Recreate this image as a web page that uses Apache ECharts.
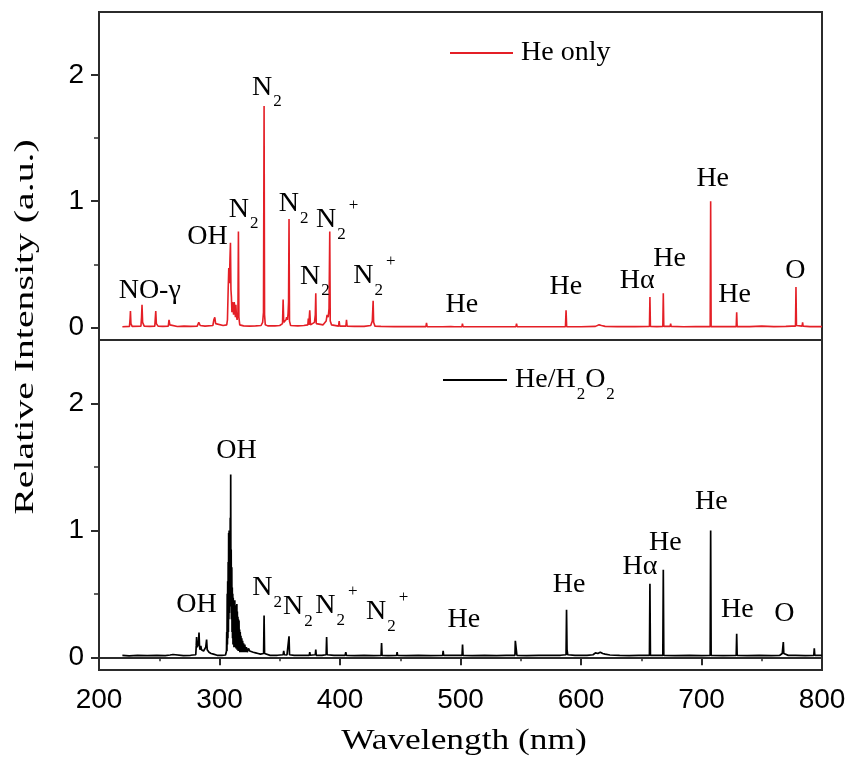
<!DOCTYPE html>
<html>
<head>
<meta charset="utf-8">
<script src="https://cdn.jsdelivr.net/npm/echarts@6/dist/echarts.min.js"></script>
<style>
  html, body { margin: 0; padding: 0; background: #ffffff; }
  #chart { width: 850px; height: 768px; }
</style>
</head>
<body>
<div id="chart"></div>
<script>
// Emission spectrum, He only discharge: [wavelength (nm), relative intensity]
const heOnlySpectrum = [
  [219.4,0.005],[221,0.006],[225.3,0.008],[225.8,0.07],[226.1,0.13],[226.5,0.03],[227.5,0.008],
  [234.8,0.01],[235.3,0.08],[235.7,0.18],[236.2,0.04],[237.5,0.01],
  [242,0.008],[246.3,0.01],[246.7,0.07],[247.1,0.13],[247.6,0.03],[249,0.01],
  [253,0.008],[257.5,0.01],[258.1,0.06],[258.8,0.02],[260,0.008],
  [265,0.007],[270.5,0.01],[271.2,0.025],[272,0.01],[276,0.008],
  [281.5,0.01],[282.8,0.04],[284,0.015],[288,0.01],
  [294.5,0.015],[295.3,0.06],[296.1,0.08],[296.8,0.03],[298,0.015],
  [303,0.015],[306,0.02],[306.6,0.06],[307.2,0.3],[307.7,0.47],[308.2,0.35],[308.7,0.55],[309.1,0.67],
  [309.5,0.3],[309.9,0.24],[310.3,0.12],[310.7,0.2],[311.2,0.16],[311.7,0.1],[312.2,0.2],[312.7,0.16],
  [313.2,0.08],[313.6,0.18],[314.0,0.1],[314.6,0.06],[315.3,0.12],[315.7,0.76],[316.1,0.08],[316.8,0.02],
  [320,0.012],[325,0.01],[330,0.012],[334.5,0.015],[335.8,0.04],[336.5,0.12],[337.0,1.755],[337.4,0.1],[338,0.02],[340,0.012],
  [346,0.012],[350,0.015],[352.3,0.03],[352.8,0.22],[353.3,0.04],[355.2,0.06],[355.7,0.08],[356.4,0.06],
  [356.9,0.11],[357.3,0.2],[357.7,0.86],[358.1,0.05],[359,0.015],
  [365,0.012],[370,0.015],[373.3,0.02],[373.7,0.07],[374.1,0.02],[374.9,0.135],[375.5,0.02],
  [378.8,0.04],[379.5,0.1],[379.9,0.27],[380.3,0.03],[381.5,0.015],
  [386,0.02],[388.5,0.05],[389.3,0.1],[390.2,0.08],[390.9,0.15],[391.5,0.76],[391.9,0.05],[393,0.02],
  [398.8,0.01],[399.3,0.05],[399.8,0.01],[404.9,0.01],[405.4,0.06],[405.9,0.01],
  [412,0.008],[420,0.008],[425.5,0.015],[426.8,0.05],[427.5,0.21],[427.9,0.04],[429,0.01],
  [433.9,0.008],[434.4,0.02],[434.9,0.008],
  [445,0.006],[460,0.006],[471.3,0.006],[471.8,0.035],[472.3,0.006],[480,0.005],
  [485.1,0.005],[485.6,0.02],[486.1,0.005],[492,0.006],[495,0.005],[501.2,0.006],[501.6,0.03],[502.1,0.006],
  [515,0.005],[530,0.005],[546,0.006],[546.5,0.03],[547,0.006],[560,0.005],[575,0.005],
  [587.1,0.006],[587.6,0.135],[588.1,0.006],
  [600,0.005],[612,0.008],[615,0.02],[617,0.015],[620,0.008],[630,0.006],[645,0.006],
  [656.8,0.008],[657.2,0.24],[657.6,0.008],[663,0.006],[667.9,0.008],[668.3,0.27],[668.7,0.008],
  [674.0,0.008],[674.4,0.03],[674.8,0.008],
  [685,0.005],[695,0.006],[707.2,0.006],[707.6,1.0],[708.0,0.006],[716.3,0.006],[716.7,0.02],[717.1,0.006],
  [720,0.006],[728.8,0.006],[729.2,0.12],[729.6,0.006],
  [740,0.006],[750,0.01],[760,0.006],[770,0.008],[775,0.01],[778.0,0.01],[778.4,0.32],[778.8,0.015],
  [783.5,0.01],[783.9,0.04],[784.3,0.01],[790,0.006],[800,0.006]
];

// Emission spectrum, He/H2O2 discharge: [wavelength (nm), relative intensity]
const heH2O2Spectrum = [
  [219.4,0.015],[225,0.012],[232,0.016],[240,0.013],[248,0.015],[255,0.014],[259,0.018],[261.4,0.022],
  [263,0.015],[270,0.014],[276,0.016],[280.3,0.02],[280.7,0.09],[281.0,0.16],[281.4,0.08],[282.0,0.07],
  [282.5,0.11],[283.0,0.195],[283.4,0.09],[283.8,0.06],[284.5,0.09],[285.0,0.06],[285.6,0.05],[286.2,0.07],
  [286.8,0.05],[287.4,0.06],[288.0,0.05],[288.6,0.08],[289.3,0.14],[289.8,0.06],[290.5,0.05],[291.3,0.04],
  [292,0.035],[293,0.03],[294,0.03],[295,0.025],[296.5,0.02],[298,0.016],[302,0.015],[305,0.018],[305.8,0.05],
  [306.0,0.2],[306.2,0.05],[306.4,0.5],[306.6,0.1],[306.8,0.6],[307.0,0.15],[307.2,0.75],[307.4,0.2],
  [307.6,0.98],[307.8,0.3],[308.0,1.0],[308.2,0.35],[308.5,0.9],[308.7,0.4],[308.9,1.1],[309.1,0.5],
  [309.3,1.44],[309.5,0.45],[309.7,0.85],[309.9,0.3],[310.2,0.71],[310.4,0.2],[310.6,0.55],[310.8,0.15],
  [311.0,0.5],[311.2,0.1],[311.4,0.47],[311.6,0.12],[311.8,0.45],[312.0,0.08],[312.2,0.44],[312.4,0.1],
  [312.7,0.45],[312.9,0.08],[313.1,0.4],[313.3,0.1],[313.5,0.41],[313.7,0.07],[313.9,0.38],[314.1,0.08],
  [314.4,0.42],[314.6,0.06],[314.8,0.36],[315.0,0.07],[315.3,0.32],[315.5,0.05],[315.7,0.3],[315.9,0.06],
  [316.2,0.29],[316.4,0.05],[316.7,0.22],[316.9,0.04],[317.2,0.2],[317.5,0.05],[317.8,0.17],[318.1,0.04],
  [318.5,0.15],[318.8,0.04],[319.2,0.13],[319.6,0.04],[320,0.11],[320.5,0.04],[321,0.1],[321.6,0.04],
  [322.3,0.08],[323,0.04],[324,0.07],[325,0.05],[326.5,0.05],[328,0.04],[330,0.035],[332,0.03],
  [334,0.025],[335.5,0.02],[336.6,0.03],[337.0,0.33],[337.4,0.03],[338.5,0.016],
  [342,0.015],[348,0.016],[352.8,0.02],[353.3,0.05],[353.8,0.02],[356,0.018],[357.3,0.02],[357.7,0.165],
  [358.1,0.02],[362,0.015],[368,0.016],[374.5,0.016],[374.9,0.04],[375.3,0.016],[379.5,0.02],[379.9,0.06],
  [380.3,0.016],[385,0.015],[388.5,0.02],[388.9,0.16],[389.3,0.02],[395,0.015],[404.3,0.016],[404.8,0.04],
  [405.3,0.016],[412,0.013],[420,0.015],[428,0.014],[434.1,0.015],[434.5,0.113],[434.9,0.015],[440,0.013],
  [447,0.015],[447.4,0.04],[447.8,0.015],[455,0.014],[465,0.015],[475,0.013],[485.2,0.015],[485.6,0.05],
  [486.0,0.015],[490.7,0.015],[491.1,0.03],[491.5,0.015],[501.3,0.015],[501.7,0.1],[502.1,0.015],
  [510,0.014],[520,0.015],[530,0.013],[538,0.015],[545.2,0.016],[545.5,0.13],[546.0,0.12],[546.5,0.13],
  [546.8,0.016],[555,0.014],[565,0.015],[576.3,0.015],[576.7,0.03],[577.1,0.015],[583,0.016],
  [587.6,0.02],[588.0,0.375],[588.4,0.06],[589.0,0.02],[595,0.015],[605,0.015],[610,0.02],[612,0.035],
  [614,0.03],[616,0.04],[618,0.03],[620,0.025],[624,0.018],[632,0.015],[640,0.014],[648,0.015],
  [656.8,0.015],[657.2,0.58],[657.6,0.015],[663,0.015],[667.9,0.015],[668.3,0.69],[668.7,0.015],
  [678,0.014],[690,0.015],[700,0.013],[707.2,0.015],[707.6,1.0],[708.0,0.015],[718,0.014],
  [728.8,0.015],[729.2,0.185],[729.6,0.015],[738,0.013],[748,0.015],[758,0.014],[765,0.016],
  [767.0,0.03],[767.5,0.04],[767.9,0.12],[768.3,0.03],[769,0.02],[772,0.015],[778.0,0.015],
  [778.4,0.03],[778.8,0.015],[786,0.014],[793.2,0.015],[793.6,0.07],[794.0,0.015],[800,0.015]
];

// Species annotations: text (rich markup for sub/superscripts) and anchor [nm, intensity]
const heOnlyLabelText = ['NO-γ', 'OH', 'N{s|2}', 'N{s|2}', 'N{s|2}', 'N{s|2}{p|+}', 'N{s|2}', 'N{s|2}{p|+}',
  'He', 'He', 'Hα', 'He', 'He', 'He', 'O'];
const heOnlyLabelAt = [[242.1,0.293],[290.0,0.716],[320.1,0.937],[339.4,1.903],[361.6,0.979],[397.6,0.853],
  [379.1,0.404],[428.6,0.409],[501.1,0.18],[587.5,0.325],[646.7,0.37],[673.5,0.542],[709.3,1.183],
  [727.5,0.259],[777.8,0.451]];

const heH2O2LabelText = ['OH', 'OH', 'N{s|2}', 'N{s|2}', 'N{s|2}{p|+}', 'N{s|2}{p|+}',
  'He', 'He', 'Hα', 'He', 'He', 'He', 'O'];
const heH2O2LabelAt = [[280.9,0.416],[314.1,1.625],[339.5,0.545],[365.0,0.397],[397.1,0.405],[439.1,0.357],
  [502.8,0.297],[590.2,0.573],[648.9,0.718],[669.9,0.905],[708.1,1.228],[729.7,0.376],[768.7,0.345]];

const xRange = [200, 800];
const xStep = 100;
const yRange = [-0.1, 2.5];
const yMajorTicks = [0, 1, 2];
const yMinorTicks = [0.5, 1.5];
const seriesNames = ['He only', 'He/H2O2'];

const SERIF = "'Liberation Serif', 'Times New Roman', serif";
const SANS = "'Liberation Sans', Arial, sans-serif";
const FRAME = '#2b2b2b';
const RED = '#e41f26';
const BLACK = '#000000';
const INK = '#000000';

// subscript (s) and superscript (p) token styles; legend text uses `color`, drawn text uses `fill`
const legendScripts = {
  s: { fontFamily: SERIF, fontSize: 17, color: INK, padding: [29, 0, 0, 1] },
  p: { fontFamily: SERIF, fontSize: 17, color: INK, padding: [0, 0, 29, 3] }
};
const labelScripts = {
  s: { fontFamily: SERIF, fontSize: 17, fill: INK, padding: [29, 0, 0, 1] },
  p: { fontFamily: SERIF, fontSize: 17, fill: INK, padding: [0, 0, 29, 3] }
};

const chart = echarts.init(document.getElementById('chart'), null, { renderer: 'canvas' });

const grids = [
  { left: 99, right: 28, top: 12, height: 328 },
  { left: 99, right: 28, top: 340, height: 330 }
];

function xAxisFor(gi, withLabels) {
  return {
    type: 'value', gridIndex: gi, min: xRange[0], max: xRange[1], interval: xStep,
    axisLine: { show: withLabels, lineStyle: { color: FRAME, width: 2 } },
    axisTick: { show: withLabels, inside: false, length: 8, lineStyle: { color: FRAME, width: 2 } },
    minorTick: { show: withLabels, splitNumber: 2, length: 4, lineStyle: { color: FRAME, width: 1.5 } },
    axisLabel: { show: withLabels, margin: 16, fontFamily: SANS, fontSize: 28, color: INK },
    splitLine: { show: false }
  };
}

function yAxesFor(gi) {
  return [
    {
      type: 'value', gridIndex: gi, position: 'left', min: yRange[0], max: yRange[1],
      axisLine: { show: true, lineStyle: { color: FRAME, width: 2 } },
      axisTick: { show: true, inside: false, length: 8, customValues: yMajorTicks, lineStyle: { color: FRAME, width: 2 } },
      axisLabel: { show: true, customValues: yMajorTicks, margin: 15, fontFamily: SANS, fontSize: 28, color: INK },
      splitLine: { show: false }
    },
    {
      type: 'value', gridIndex: gi, position: 'left', offset: 0, min: yRange[0], max: yRange[1],
      axisLine: { show: false },
      axisTick: { show: true, inside: false, length: 5, customValues: yMinorTicks, lineStyle: { color: FRAME, width: 1.5 } },
      axisLabel: { show: false },
      splitLine: { show: false }
    }
  ];
}

// Species names written at data coordinates of each panel
function annotationSeries(texts, anchors, xi, yi) {
  return {
    type: 'custom', coordinateSystem: 'cartesian2d', xAxisIndex: xi, yAxisIndex: yi,
    silent: true, z: 6, clip: false,
    data: anchors.map((a, i) => [a[0], a[1], i]),
    encode: { x: 0, y: 1 },
    renderItem: (params, api) => {
      const pt = api.coord([api.value(0), api.value(1)]);
      return {
        type: 'text', x: pt[0], y: pt[1],
        style: {
          text: texts[api.value(2)], fontFamily: SERIF, fontSize: 28, fill: INK,
          align: 'center', verticalAlign: 'middle', rich: labelScripts
        }
      };
    }
  };
}

const legendText = { fontFamily: SERIF, fontSize: 28, color: INK, padding: [0, 0, 0, 3], rich: legendScripts };

chart.setOption({
  animation: false,
  backgroundColor: '#ffffff',
  grid: grids.map(g => Object.assign({ show: true, borderColor: FRAME, borderWidth: 2, backgroundColor: 'transparent' }, g)),
  xAxis: [xAxisFor(0, false), xAxisFor(1, true)],
  yAxis: yAxesFor(0).concat(yAxesFor(1)),
  legend: [
    {
      data: [{ name: seriesNames[0], icon: 'rect' }], left: 450, top: 39, padding: 0,
      itemWidth: 63, itemHeight: 2, itemGap: 0, textStyle: legendText, selectedMode: false
    },
    {
      data: [{ name: seriesNames[1], icon: 'rect' }], left: 443, top: 366, padding: 0,
      itemWidth: 64, itemHeight: 2, itemGap: 0, textStyle: legendText, selectedMode: false,
      formatter: () => 'He/H{s|2}O{s|2}'
    }
  ],
  graphic: [
    {
      type: 'text', x: 464, y: 741, scaleX: 1.22, silent: true,
      style: { text: 'Wavelength (nm)', fontFamily: SERIF, fontSize: 29, fill: INK,
        align: 'center', verticalAlign: 'middle' }
    },
    {
      type: 'text', x: 26, y: 327, rotation: Math.PI / 2, scaleX: 1.42, silent: true,
      style: { text: 'Relative Intensity (a.u.)', fontFamily: SERIF, fontSize: 28, fill: INK,
        align: 'center', verticalAlign: 'middle' }
    }
  ],
  series: [
    {
      name: seriesNames[0], type: 'line', xAxisIndex: 0, yAxisIndex: 0, data: heOnlySpectrum,
      symbol: 'none', showSymbol: false, sampling: false, z: 3,
      color: RED, lineStyle: { color: RED, width: 1.6 }
    },
    {
      name: seriesNames[1], type: 'line', xAxisIndex: 1, yAxisIndex: 2, data: heH2O2Spectrum,
      symbol: 'none', showSymbol: false, sampling: false, z: 3,
      color: BLACK, lineStyle: { color: BLACK, width: 1.7 }
    },
    annotationSeries(heOnlyLabelText, heOnlyLabelAt, 0, 0),
    annotationSeries(heH2O2LabelText, heH2O2LabelAt, 1, 2)
  ]
});
</script>
</body>
</html>
